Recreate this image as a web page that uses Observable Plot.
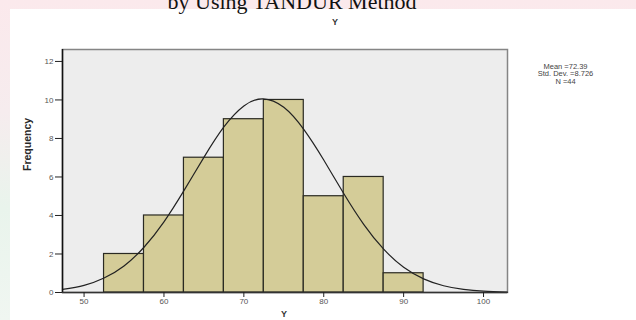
<!DOCTYPE html>
<html>
<head>
<meta charset="utf-8">
<script src="https://cdn.jsdelivr.net/npm/d3@7"></script>
<script src="https://cdn.jsdelivr.net/npm/@observablehq/plot@0.6"></script>
<style>
  html, body { margin: 0; padding: 0; }
  body { width: 636px; height: 320px; overflow: hidden; position: relative;
         background: linear-gradient(180deg, #fbe9ec 0%, #f6ecee 35%, #e9f4ec 65%, #f0f6f1 100%); }
  #paper { position: absolute; left: 10px; top: 9px; width: 626px; height: 311px; background: #ffffff; }
  #chart { position: absolute; left: 0; top: 0; }
</style>
</head>
<body>
<div id="paper"></div>
<div id="chart"></div>
<script>
// ---- data ----
const binStarts = [52.5, 57.5, 62.5, 67.5, 72.5, 77.5, 82.5, 87.5];
const binEnds   = [57.5, 62.5, 67.5, 72.5, 77.5, 82.5, 87.5, 92.5];
const counts    = [2, 4, 7, 9, 10, 5, 6, 1];

// normal curve
const curveX = [47.3, 50, 52.5, 55, 57.5, 60, 62.5, 65, 67.5, 70, 72.4, 75, 77.5, 80, 82.5, 85, 87.5, 90, 92.5, 95, 97.5, 100, 103];
const curveY = [0.16, 0.37, 0.75, 1.38, 2.35, 3.67, 5.29, 7.02, 8.6, 9.69, 10.06, 9.62, 8.47, 6.88, 5.14, 3.54, 2.25, 1.31, 0.71, 0.35, 0.16, 0.07, 0.02];

const xTicks = [50, 60, 70, 80, 90, 100];
const yTicks = [0, 2, 4, 6, 8, 10, 12];
const xDomain = [47.3, 103];
const yDomain = [0, 12.62];

const pageTitle = "by Using TANDUR Method";
const chartTitle = "Y";
const xLabel = "Y";
const yLabel = "Frequency";
const statLines = ["Mean =72.39", "Std. Dev. =8.726", "N =44"];

// ---- tables built from the arrays ----
const bins = binStarts.map((s, i) => ({x1: s, x2: binEnds[i], count: counts[i]}));
const curve = curveX.map((x, i) => ({x, y: curveY[i]}));

const chart = Plot.plot({
  width: 636,
  height: 320,
  marginLeft: 62,
  marginRight: 129,
  marginTop: 49,
  marginBottom: 28,
  style: {fontFamily: "'Liberation Sans', Arial, sans-serif", background: "transparent", overflow: "visible"},
  x: {domain: xDomain},
  y: {domain: yDomain},
  marks: [
    Plot.frame({fill: "#ededed", stroke: "#858585", strokeWidth: 1.5}),
    Plot.rectY(bins, {x1: "x1", x2: "x2", y: "count", fill: "#d4cc98", stroke: "#2a2a22", strokeWidth: 1.2}),
    Plot.line(curve, {x: "x", y: "y", stroke: "#222", strokeWidth: 1.2, curve: "natural"}),
    Plot.ruleX([xDomain[0]], {stroke: "#111", strokeWidth: 1.5}),
    Plot.ruleY([0], {stroke: "#333", strokeWidth: 1.5}),
    Plot.axisX({ticks: xTicks, tickSize: 5, tickPadding: 1, fontSize: 8, fill: "#555", stroke: "#222", label: null}),
    Plot.axisY({ticks: yTicks, tickSize: 7, tickPadding: 2, fontSize: 8, fill: "#555", stroke: "#222", label: null}),
    Plot.text([pageTitle], {frameAnchor: "top", dx: 7, dy: -48, lineAnchor: "middle",
      fontFamily: "'Liberation Serif', 'Times New Roman', serif", fontSize: 22, fill: "#111"}),
    Plot.text([chartTitle], {frameAnchor: "top", dx: 50, dy: -27, lineAnchor: "middle",
      fontSize: 9, fontWeight: "bold", fill: "#333"}),
    Plot.text([yLabel], {frameAnchor: "left", dx: -35, rotate: -90, lineAnchor: "middle",
      fontSize: 10.5, fontWeight: "bold", fill: "#2a2a2a"}),
    Plot.text([xLabel], {frameAnchor: "bottom", dx: -1, dy: 22, lineAnchor: "middle",
      fontSize: 9, fontWeight: "bold", fill: "#333"}),
    Plot.text([statLines.join("\n")], {frameAnchor: "top-right", dx: 58, dy: 14, lineAnchor: "top",
      textAnchor: "middle", fontSize: 7.5, lineHeight: 1.0, fill: "#444"})
  ]
});
document.getElementById("chart").appendChild(chart);
</script>
</body>
</html>
